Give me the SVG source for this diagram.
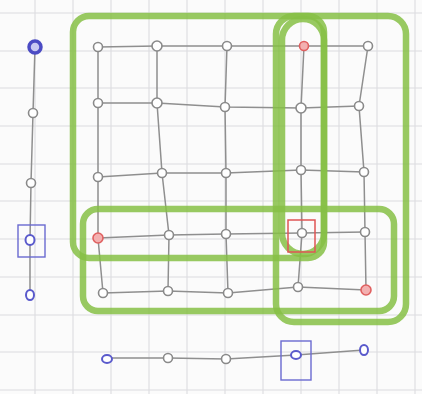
<svg xmlns="http://www.w3.org/2000/svg" width="422" height="394" viewBox="0 0 422 394">
<style>
.paper{stroke:#dcdce0;stroke-width:1.1}
.e{stroke:#8f8f8f;stroke-width:1.5;fill:none;stroke-linecap:round}
.n{fill:#fff;stroke:#8a8a8a;stroke-width:1.6}
.r{fill:#f3b0b0;stroke:#e06060;stroke-width:1.6}
.b{fill:#fff;stroke:#5a5acc;stroke-width:2}
.g{fill:none;stroke:#86c045;stroke-width:6.5;stroke-opacity:0.85}
.bsq{fill:none;stroke:#6a6ad0;stroke-width:1.4}
.rsq{fill:none;stroke:#e05555;stroke-width:1.5}
</style>
<rect width="422" height="394" fill="#fbfbfb"/>
<g id="paper">
<path class="paper" d="M35 0V394M73 0V394M111 0V394M149 0V394M187 0V394M225 0V394M263 0V394M301 0V394M339 0V394M377 0V394M415 0V394"/>
<path class="paper" d="M0 13H422M0 51H422M0 88H422M0 126H422M0 164H422M0 201H422M0 239H422M0 277H422M0 315H422M0 352H422M0 390H422"/>
</g>
<g id="connectors">
<path class="e" d="M98 47L157 46L227 46L304 46L368 46"/>
<path class="e" d="M98 103L157 103L225 107L301 108L359 106"/>
<path class="e" d="M98 177L162 173L226 173L301 170L364 172"/>
<path class="e" d="M98 238L169 235L226 234L302 233L365 232"/>
<path class="e" d="M103 293L168 291L228 293L298 287L366 290"/>
<path class="e" d="M98 47L98 103L98 177L98 238L103 293"/>
<path class="e" d="M157 46L157 103L162 173L169 235L168 291"/>
<path class="e" d="M227 46L225 107L226 173L226 234L228 293"/>
<path class="e" d="M304 46L301 108L301 170L302 233L298 287"/>
<path class="e" d="M368 46L359 106L364 172L365 232L366 290"/>
<path class="e" d="M35 47L33 113L31 183L30 240L30 295"/>
<path class="e" d="M107 358L168 358L226 359L296 355L364 350"/>
</g>
<g id="groups">
<rect class="g" x="73" y="16" width="251" height="242" rx="16"/>
<rect class="g" x="276" y="16" width="130" height="306" rx="18"/>
<rect class="g" x="282" y="19" width="42" height="235" rx="21"/>
<rect class="g" x="83" y="209" width="311" height="102" rx="15"/>
</g>
<g id="grid-nodes">
<circle class="n" cx="98" cy="47" r="4.5"/>
<circle class="n" cx="157" cy="46" r="5"/>
<circle class="n" cx="227" cy="46" r="4.5"/>
<circle class="r" cx="304" cy="46" r="4.5"/>
<circle class="n" cx="368" cy="46" r="4.5"/>
<circle class="n" cx="98" cy="103" r="4.5"/>
<circle class="n" cx="157" cy="103" r="5"/>
<circle class="n" cx="225" cy="107" r="4.5"/>
<circle class="n" cx="301" cy="108" r="5"/>
<circle class="n" cx="359" cy="106" r="4.5"/>
<circle class="n" cx="98" cy="177" r="4.5"/>
<circle class="n" cx="162" cy="173" r="4.5"/>
<circle class="n" cx="226" cy="173" r="4.5"/>
<circle class="n" cx="301" cy="170" r="4.5"/>
<circle class="n" cx="364" cy="172" r="4.5"/>
<circle class="r" cx="98" cy="238" r="5"/>
<circle class="n" cx="169" cy="235" r="4.5"/>
<circle class="n" cx="226" cy="234" r="4.5"/>
<g id="node-r4c4"><rect class="rsq" x="288" y="220" width="27" height="32"/><circle class="n" cx="302" cy="233" r="4.5"/></g>
<circle class="n" cx="365" cy="232" r="4.5"/>
<circle class="n" cx="103" cy="293" r="4.5"/>
<circle class="n" cx="168" cy="291" r="4.5"/>
<circle class="n" cx="228" cy="293" r="4.5"/>
<circle class="n" cx="298" cy="287" r="4.5"/>
<circle class="r" cx="366" cy="290" r="5"/>
</g>
<g id="left-nodes">
<circle cx="35" cy="47" r="6" fill="#c9c9f2" stroke="#4b4bc4" stroke-width="3.5"/>
<circle class="n" cx="33" cy="113" r="4.5"/>
<circle class="n" cx="31" cy="183" r="4.5"/>
<g id="node-left-sq"><rect class="bsq" x="18" y="225" width="27" height="32"/><ellipse class="b" cx="30" cy="240" rx="4.5" ry="5"/></g>
<ellipse class="b" cx="30" cy="295" rx="4" ry="5"/>
</g>
<g id="bottom-nodes">
<ellipse class="b" cx="107" cy="359" rx="5" ry="4"/>
<circle class="n" cx="168" cy="358" r="4.5"/>
<circle class="n" cx="226" cy="359" r="4.5"/>
<g id="node-bottom-sq"><rect class="bsq" x="281" y="341" width="30" height="39"/><ellipse class="b" cx="296" cy="355" rx="5" ry="4"/></g>
<ellipse class="b" cx="364" cy="350" rx="4" ry="5"/>
</g>
</svg>
